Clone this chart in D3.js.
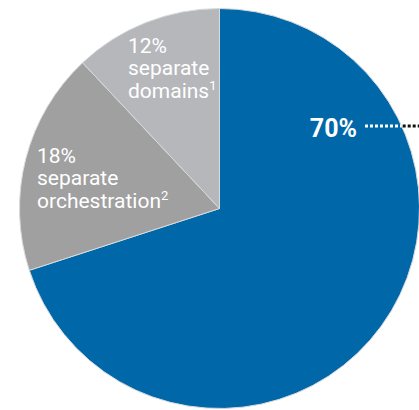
<!DOCTYPE html>
<html><head><meta charset="utf-8">
<script src="https://cdn.jsdelivr.net/npm/d3@7"></script>
<style>html,body{margin:0;padding:0;background:#fff;overflow:hidden}svg{display:block}</style>
</head><body>
<svg id="chart" width="419" height="410"></svg>
<script>
const categories = ["Blue", "separate orchestration", "separate domains"];
const values = [70, 18, 12];
const colors = ["#0067a9", "#a0a0a0", "#b6b7bb"];
const pctLabels = ["70%", "18%", "12%"];
const subLabels = [[], ["separate", "orchestration", "2"], ["separate", "domains", "1"]];

const svg = d3.select("#chart");
const cx = 219.5, cy = 208.5, r = 200;
const g = svg.append("g").attr("transform", `translate(${cx},${cy})`);

const pie = d3.pie().value(d => d).sort(null);
const arcs = pie(values);
const arc = d3.arc().innerRadius(0).outerRadius(r);

g.selectAll("path").data(arcs).join("path")
  .attr("d", arc)
  .attr("fill", (d, i) => colors[i])
  .attr("stroke", "#d9dadd")
  .attr("stroke-width", 1);

const font = "Roboto, 'Noto Sans', sans-serif";

// 70% label
g.append("text").attr("x", 357 - cx).attr("y", 137 - cy)
  .attr("text-anchor", "end").attr("fill", "#fff")
  .attr("font-family", font).attr("font-weight", 700).attr("font-size", 25)
  .text(pctLabels[0]);

// dotted leader
const ly = 126 - cy;
const edgeX = Math.sqrt(r * r - ly * ly);
g.append("line").attr("x1", 365 - cx).attr("x2", edgeX).attr("y1", ly).attr("y2", ly)
  .attr("stroke", "#fff").attr("stroke-width", 3).attr("stroke-dasharray", "3,2");
g.append("line").attr("x1", edgeX + 1).attr("x2", 419 - cx).attr("y1", ly).attr("y2", ly)
  .attr("stroke", "#111").attr("stroke-width", 3).attr("stroke-dasharray", "3,2");

function block(x, y0, i) {
  const t = g.append("text").attr("fill", "#fff").attr("font-family", font)
    .attr("font-size", 21).attr("font-weight", 400);
  t.append("tspan").attr("x", x - cx).attr("y", y0 - cy).text(pctLabels[i]);
  t.append("tspan").attr("x", x - cx).attr("y", y0 + 22.5 - cy).text(subLabels[i][0]);
  t.append("tspan").attr("x", x - cx).attr("y", y0 + 45.5 - cy).text(subLabels[i][1]);
  t.append("tspan").attr("font-size", 13).attr("dy", -8).text(subLabels[i][2]);
}
block(128, 52.5, 2);
block(37, 162.5, 1);
</script>
</body></html>
